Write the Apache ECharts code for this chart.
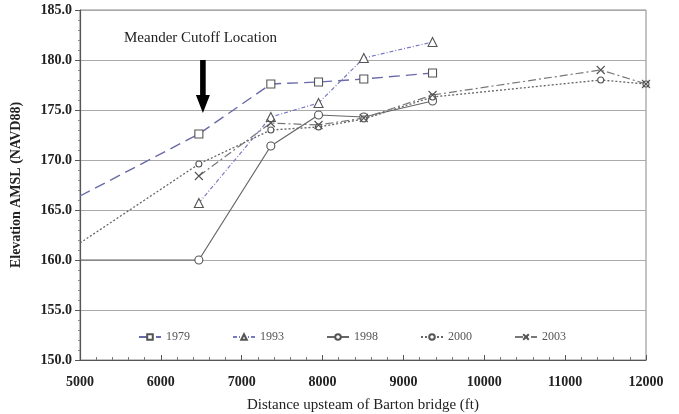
<!DOCTYPE html>
<html><head><meta charset="utf-8">
<script src="https://cdn.jsdelivr.net/npm/echarts@6/dist/echarts.min.js"></script>
<style>html,body{margin:0;padding:0;background:#fff}#c{width:679px;height:414px}</style>
</head><body><div id="c"></div>
<script>
const xTicks = [5000, 6000, 7000, 8000, 9000, 10000, 11000, 12000];
const yTicks = [150, 155, 160, 165, 170, 175, 180, 185];

const x1979 = [5000, 6470, 7360, 7950, 8510, 9360];
const y1979 = [166.4, 172.6, 177.6, 177.8, 178.1, 178.7];
const x1993 = [6470, 7360, 7950, 8510, 9360];
const y1993 = [165.7, 174.3, 175.7, 180.2, 181.8];
const x1998 = [5000, 6470, 7360, 7950, 8510, 9360];
const y1998 = [160.0, 160.0, 171.4, 174.5, 174.3, 175.9];
const x2000 = [5000, 6470, 7360, 7950, 8510, 9360, 11440, 12000];
const y2000 = [161.7, 169.6, 173.0, 173.3, 174.1, 176.3, 178.0, 177.6];
const x2003 = [6470, 7360, 7950, 8510, 9360, 11440, 12000];
const y2003 = [168.4, 173.7, 173.5, 174.2, 176.5, 179.0, 177.6];

const arrowX = 6520, arrowTop = 180.0, arrowTip = 174.7;
const annotation = 'Meander Cutoff Location';

function pts(xs, ys, hideEdge) {
  return xs.map((x, i) => {
    const p = { value: [x, ys[i]] };
    if (hideEdge && x === 5000) p.symbol = 'none';
    return p;
  });
}
const serif = '"Liberation Serif","Times New Roman",serif';
const chart = echarts.init(document.getElementById('c'), null, { renderer: 'canvas' });

function mk(name, xs, ys, color, type, symbol, size, width) {
  return {
    name, type: 'line', data: pts(xs, ys, true),
    symbol, symbolSize: size, showSymbol: true,
    lineStyle: { color, type, width: width || 1.2 },
    itemStyle: { color: '#fff', borderColor: '#555', borderWidth: 1.1 },
    emphasis: { disabled: true }, animation: false, z: 3
  };
}

const series = [
  mk('1979', x1979, y1979, '#6a6aa8', [11, 6], 'rect', 8, 1.4),
  mk('1993', x1993, y1993, '#7a7ac0', [4, 2, 1, 2], 'triangle', 9, 1.2),
  mk('1998', x1998, y1998, '#666', 'solid', 'circle', 8, 1.2),
  mk('2000', x2000, y2000, '#666', [2, 2], 'circle', 6, 1.3),
  mk('2003', x2003, y2003, '#777', [8, 3, 2, 3], 'path://M0,0L10,10M10,0L0,10', 8, 1.2)
];

chart.setOption({
  animation: false,
  grid: { left: 80, right: 33, top: 10, bottom: 54, show: true, borderColor: '#888', borderWidth: 1,
    containLabel: false, outerBoundsMode: 'none' },
  legend: {
    left: 133, top: 326, itemWidth: 22, itemHeight: 7, itemGap: 42,
    textStyle: { fontFamily: serif, fontSize: 12, color: '#555' },
    data: ['1979', '1993', '1998', '2000', '2003']
  },
  xAxis: {
    type: 'value', min: xTicks[0], max: xTicks[xTicks.length - 1], interval: 1000,
    name: 'Distance upsteam of Barton bridge (ft)', nameLocation: 'middle', nameGap: 38,
    nameTextStyle: { fontFamily: serif, fontSize: 15, color: '#222' },
    axisLine: { lineStyle: { color: '#555', width: 1.2 } },
    axisTick: { inside: true, length: 5, lineStyle: { color: '#555' } },
    minorTick: { show: true, splitNumber: 5, length: 3, lineStyle: { color: '#777' } },
    axisLabel: { fontFamily: serif, fontWeight: 'bold', fontSize: 14, color: '#222', margin: 15,
      formatter: v => String(v) },
    splitLine: { show: false }
  },
  yAxis: {
    type: 'value', min: yTicks[0], max: yTicks[yTicks.length - 1], interval: 5,
    name: 'Elevation AMSL (NAVD88)', nameLocation: 'middle', nameGap: 57,
    nameTextStyle: { fontFamily: serif, fontSize: 14, fontWeight: 'bold', color: '#222' },
    axisLine: { show: true, lineStyle: { color: '#555', width: 1.2 } },
    axisTick: { show: true, inside: false, length: 5, lineStyle: { color: '#555' } },
    minorTick: { show: true, splitNumber: 5, length: 2, lineStyle: { color: '#888' } },
    axisLabel: { fontFamily: serif, fontWeight: 'bold', fontSize: 14, color: '#222', margin: 8,
      formatter: v => v.toFixed(1) },
    splitLine: { show: true, lineStyle: { color: '#aaa', width: 1 } }
  },
  series
});

function drawArrow() {
  const top = chart.convertToPixel({ gridIndex: 0 }, [arrowX, arrowTop]);
  const tip = chart.convertToPixel({ gridIndex: 0 }, [arrowX, arrowTip]);
  const headH = 18, headW = 7, shaftW = 2.8;
  const cx = top[0];
  chart.setOption({
    graphic: [
      { type: 'polygon', z: 10, shape: { points: [
        [cx - shaftW, top[1]], [cx + shaftW, top[1]], [cx + shaftW, tip[1] - headH],
        [cx + headW, tip[1] - headH], [cx, tip[1]], [cx - headW, tip[1] - headH],
        [cx - shaftW, tip[1] - headH]] }, style: { fill: '#000' } },
      { type: 'text', z: 10, left: 124, top: 31,
        style: { text: annotation, font: '15px ' + serif, fill: '#222' } }
    ]
  });
}
drawArrow();
</script></body></html>
